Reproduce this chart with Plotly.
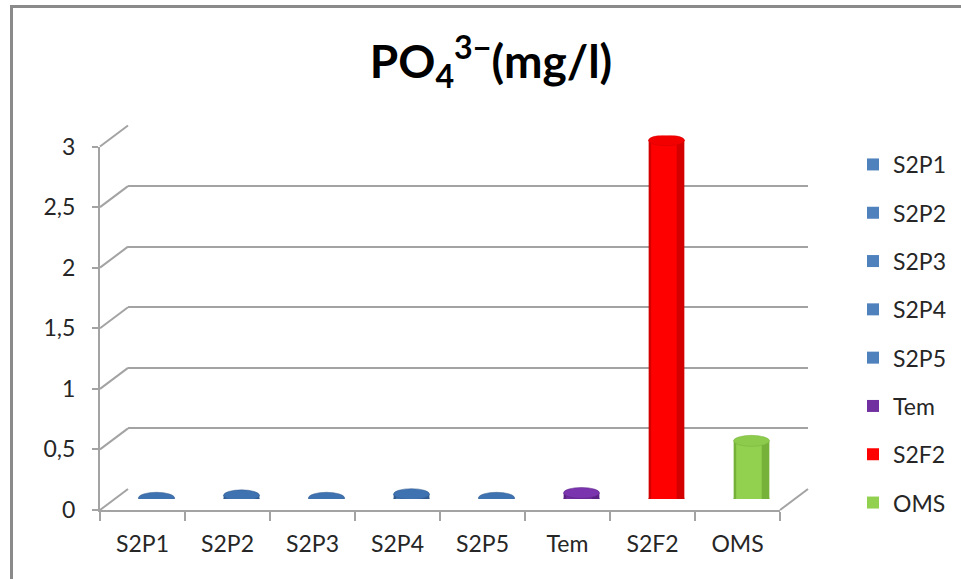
import plotly.graph_objects as go

# ---------------- data ----------------
categories = ["S2P1", "S2P2", "S2P3", "S2P4", "S2P5", "Tem", "S2F2", "OMS"]
values = [0.01, 0.03, 0.01, 0.04, 0.01, 0.05, 2.96, 0.48]
body_colors = ["#4a7ab5", "#4a7ab5", "#4a7ab5", "#4a7ab5", "#4a7ab5", "#7030a0", "#ff0000", "#92d050"]
edge_colors = ["#2f5b8f", "#2f5b8f", "#2f5b8f", "#2f5b8f", "#2f5b8f", "#5a2284", "#d40000", "#76b23a"]
top_colors = ["#3f72b0", "#3f72b0", "#3f72b0", "#3f72b0", "#3f72b0", "#7a34ad", "#f20000", "#8ccb4b"]
legend_colors = ["#4f81bd", "#4f81bd", "#4f81bd", "#4f81bd", "#4f81bd", "#7030a0", "#ff0000", "#92d050"]
y_ticks = [0, 0.5, 1, 1.5, 2, 2.5, 3]

# ---------------- geometry (pixels) ----------------
W, H = 961, 579
FX0, FX1 = 100, 780          # front plot x
FY0, FY1 = 510, 146.5        # front y for 0 and 3
DX, DY = 28, 21              # depth offset to back wall
BDX, BDY = 14, 11            # offset of bar centres

def px(x):
    return x / W

def py(y):
    return 1 - y / H

font_family = "Lato, 'Open Sans', sans-serif"
text_col = "#262626"
grid_col = "#a3a3a3"
label_size = 23

fig = go.Figure()

# bars: body (darker edge) + lighter centre highlight
for i, (c, v) in enumerate(zip(categories, values)):
    fig.add_trace(go.Bar(
        x=[c], y=[v], width=0.42, name=c, legendgroup=c,
        marker=dict(color=edge_colors[i], line=dict(width=0)),
        xaxis="x3", yaxis="y3", showlegend=False, hoverinfo="skip"))
    fig.add_trace(go.Bar(
        x=[c], y=[v], width=0.30, offset=-0.18,
        marker=dict(color=body_colors[i], line=dict(width=0)),
        xaxis="x3", yaxis="y3", showlegend=False, hoverinfo="skip"))

# legend entries
for i, c in enumerate(categories):
    fig.add_trace(go.Bar(
        x=[c], y=[None], name=c, legendgroup=c,
        marker=dict(color=legend_colors[i], line=dict(width=0)),
        xaxis="x", yaxis="y", showlegend=True))

# invisible trace on back-wall axes
fig.add_trace(go.Scatter(x=[categories[0]], y=[0], mode="markers",
                         marker=dict(opacity=0), xaxis="x2", yaxis="y2",
                         showlegend=False, hoverinfo="skip"))

shapes = []
# diagonal connectors from front axis to back wall gridlines
for t in y_ticks:
    yf = FY0 + (FY1 - FY0) * t / 3
    shapes.append(dict(type="line", xref="paper", yref="paper",
                       x0=px(FX0), y0=py(yf), x1=px(FX0 + DX), y1=py(yf - DY),
                       line=dict(color=grid_col, width=2), layer="below"))
# floor right edge
shapes.append(dict(type="line", xref="paper", yref="paper",
                   x0=px(FX1), y0=py(FY0), x1=px(FX1 + DX), y1=py(FY0 - DY),
                   line=dict(color=grid_col, width=2), layer="below"))

# cylinder ends (bottom + top ellipses)
for i, (c, v) in enumerate(zip(categories, values)):
    shapes.append(dict(type="circle", xref="x3", yref="y3",
                       xsizemode="pixel", ysizemode="pixel",
                       xanchor=c, yanchor=0, x0=-18, x1=18, y0=-5.5, y1=5.5,
                       fillcolor=edge_colors[i], line=dict(width=0), layer="below"))
    shapes.append(dict(type="circle", xref="x3", yref="y3",
                       xsizemode="pixel", ysizemode="pixel",
                       xanchor=c, yanchor=v, x0=-18, x1=18, y0=-5.5, y1=5.5,
                       fillcolor=top_colors[i], line=dict(color=edge_colors[i], width=0.5),
                       layer="above"))

# chart border
shapes.append(dict(type="line", xref="paper", yref="paper",
                   x0=px(11.5), x1=px(11.5), y0=py(5), y1=py(H + 5),
                   line=dict(color="#8a8a8a", width=3), layer="above"))
shapes.append(dict(type="line", xref="paper", yref="paper",
                   x0=px(10), x1=px(W + 5), y0=py(6.5), y1=py(6.5),
                   line=dict(color="#8a8a8a", width=3), layer="above"))

fig.update_layout(
    width=W, height=H,
    margin=dict(l=0, r=0, t=0, b=0, autoexpand=False),
    paper_bgcolor="white", plot_bgcolor="rgba(0,0,0,0)",
    separators=", ",
    barmode="overlay",
    font=dict(family=font_family, size=label_size, color=text_col),
    title=dict(text="<b>PO<sub>4</sub><sup>3\u2212</sup>(mg/l)</b>",
               x=px(491), xanchor="center", y=py(62), yanchor="middle",
               font=dict(size=46, color="#000000", family=font_family)),
    xaxis=dict(domain=[px(FX0), px(FX1)], type="category",
               categoryorder="array", categoryarray=categories,
               showline=True, linecolor=grid_col, linewidth=2,
               ticks="outside", tickson="boundaries", ticklen=9, tickcolor=grid_col,
               tickwidth=2, showgrid=False, zeroline=False, automargin=False,
               tickfont=dict(size=label_size),
               ticklabelstandoff=12, anchor="y", fixedrange=True),
    yaxis=dict(domain=[py(FY0), py(FY1)], range=[0, 3],
               tickvals=y_ticks, showline=True, linecolor=grid_col, linewidth=2,
               ticks="outside", ticklen=6, tickcolor=grid_col, tickwidth=2,
               tickfont=dict(size=label_size),
               showgrid=False, zeroline=False, ticklabelstandoff=12, automargin=False,
               anchor="x", fixedrange=True),
    xaxis2=dict(domain=[px(FX0 + DX), px(FX1 + DX)], type="category",
                categoryorder="array", categoryarray=categories,
                showticklabels=False, showline=False, showgrid=False,
                zeroline=False, anchor="y2", fixedrange=True, automargin=False),
    yaxis2=dict(domain=[py(FY0 - DY), py(FY1 - DY)], range=[0, 3],
                tickvals=y_ticks, showticklabels=False, showline=False,
                showgrid=True, gridcolor=grid_col, gridwidth=2,
                zeroline=False, anchor="x2", fixedrange=True, automargin=False),
    xaxis3=dict(domain=[px(FX0 + BDX), px(FX1 + BDX)], type="category",
                categoryorder="array", categoryarray=categories,
                showticklabels=False, showline=False, showgrid=False,
                zeroline=False, anchor="y3", fixedrange=True, automargin=False),
    yaxis3=dict(domain=[py(FY0 - BDY), py(FY1 - BDY)], range=[0, 3],
                showticklabels=False, showline=False, showgrid=False,
                zeroline=False, anchor="x3", fixedrange=True, automargin=False),
    legend=dict(x=px(853), xanchor="left", y=py(143), yanchor="top",
                tracegroupgap=15.4, itemwidth=30, bgcolor="rgba(0,0,0,0)",
                font=dict(size=label_size, color=text_col, family=font_family)),
    shapes=shapes,
    showlegend=True,
)

fig.write_html("out.html")
